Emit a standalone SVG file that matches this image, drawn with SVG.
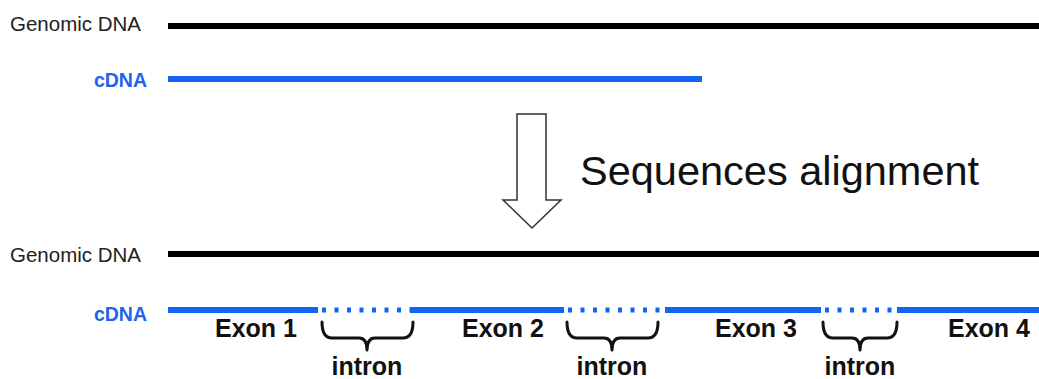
<svg xmlns="http://www.w3.org/2000/svg" width="1039" height="379" viewBox="0 0 1039 379">
<style>
.lbl{font-family:"Liberation Sans",Arial,sans-serif;font-size:20.5px;fill:#222}
.c{font-family:"Liberation Sans",Arial,sans-serif;font-size:19.5px;font-weight:bold;fill:#1e62f0}
.ex{font-family:"Liberation Sans",Arial,sans-serif;font-size:25px;font-weight:bold;fill:#111}
.big{font-family:"Liberation Sans",Arial,sans-serif;font-size:41.5px;fill:#111}
.g{stroke:#000;stroke-width:6;fill:none}
.b{stroke:#1464f4;stroke-width:6;fill:none}
.d{stroke:#1464f4;stroke-width:5;fill:none;stroke-dasharray:4 8.5}
.br{stroke:#111;stroke-width:3;fill:none;stroke-linecap:round;stroke-linejoin:round}
</style>
<rect width="1039" height="379" fill="#fff"/>
<g id="top-genomic">
<text class="lbl" x="10" y="31">Genomic DNA</text>
</g>
<g id="top-cdna">
<text class="c" x="147" y="87" text-anchor="end">cDNA</text>
</g>
<g id="arrow">
<polygon points="517,114 546,114 546,200 561,200 532,228 503,200 517,200" fill="#fff" stroke="#333" stroke-width="1.5"/>
<text class="big" x="580" y="185">Sequences alignment</text>
</g>
<g id="bottom-genomic">
<text class="lbl" x="10" y="262">Genomic DNA</text>
</g>
<g id="bottom-cdna">
<text class="c" x="147" y="321" text-anchor="end">cDNA</text>
</g>
<g id="exon1"><text class="ex" x="215" y="337">Exon 1</text></g>
<g id="exon2"><text class="ex" x="462" y="337">Exon 2</text></g>
<g id="exon3"><text class="ex" x="715" y="337">Exon 3</text></g>
<g id="exon4"><text class="ex" x="948" y="337">Exon 4</text></g>
<g id="intron1">
<path class="br" d="M322,322 Q322,338 332,338 L359,338 Q367,338 367,350 Q367,338 375,338 L403,338 Q413,338 413,322"/>
<text class="ex" x="367" y="375" text-anchor="middle">intron</text>
</g>
<g id="intron2">
<path class="br" d="M567,322 Q567,338 577,338 L604,338 Q612,338 612,350 Q612,338 620,338 L648,338 Q658,338 658,322"/>
<text class="ex" x="612" y="375" text-anchor="middle">intron</text>
</g>
<g id="intron3">
<path class="br" d="M823,322 Q823,338 833,338 L852,338 Q860,338 860,350 Q860,338 868,338 L887,338 Q897,338 897,322"/>
<text class="ex" x="860" y="375" text-anchor="middle">intron</text>
</g>
<g id="connectors">
<line class="g" x1="168" y1="26" x2="1039" y2="26"/>
<line class="b" x1="168" y1="79" x2="702" y2="79"/>
<line class="g" x1="168" y1="254" x2="1039" y2="254"/>
<line class="b" x1="168" y1="310" x2="318" y2="310"/>
<line class="d" x1="322" y1="310" x2="410" y2="310"/>
<line class="b" x1="410" y1="310" x2="564" y2="310"/>
<line class="d" x1="568" y1="310" x2="665" y2="310"/>
<line class="b" x1="665" y1="310" x2="821" y2="310"/>
<line class="d" x1="825" y1="310" x2="897" y2="310"/>
<line class="b" x1="897" y1="310" x2="1039" y2="310"/>
</g>
</svg>
